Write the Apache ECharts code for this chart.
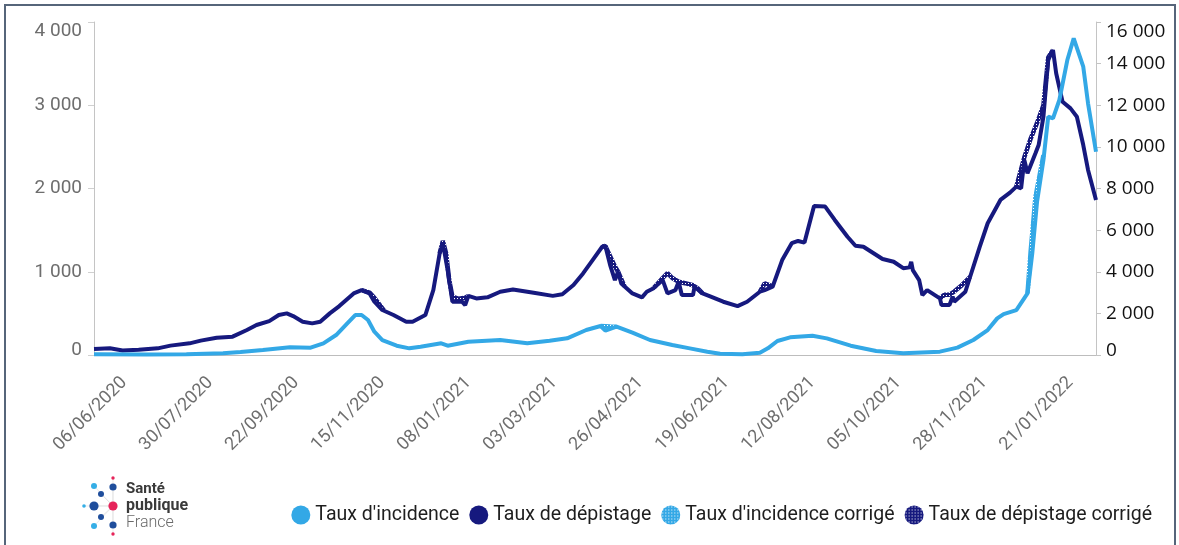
<!DOCTYPE html>
<html>
<head>
<meta charset="utf-8">
<script src="https://cdn.jsdelivr.net/npm/echarts@6/dist/echarts.min.js"></script>
<style>
  html, body { margin: 0; padding: 0; background: #fff; }
  #chart { width: 1179px; height: 545px; }
</style>
</head>
<body>
<div id="chart"></div>
<script>
// dates shown under the x axis (every 54 days)
var tickDates = ['2020-06-06', '2020-07-30', '2020-09-22', '2020-11-15', '2021-01-08', '2021-03-03',
  '2021-04-26', '2021-06-19', '2021-08-12', '2021-10-05', '2021-11-28', '2022-01-21'];
var firstDay = '2020-05-18';
var lastDay = '2022-02-06';

var seriesNames = ["Taux d'incidence", 'Taux de dépistage', "Taux d'incidence corrigé", 'Taux de dépistage corrigé'];

// taux d'incidence (axe gauche)
var incidence = [
  ['2020-05-18', 8], ['2020-06-20', 6], ['2020-07-15', 10], ['2020-08-07', 20], ['2020-08-18', 35],
  ['2020-09-01', 60], ['2020-09-18', 92], ['2020-10-01', 88], ['2020-10-09', 140], ['2020-10-17', 240],
  ['2020-10-24', 380], ['2020-10-29', 480], ['2020-11-02', 480], ['2020-11-06', 420], ['2020-11-10', 280],
  ['2020-11-15', 180], ['2020-11-24', 112], ['2020-12-02', 80], ['2020-12-09', 100], ['2020-12-22', 140],
  ['2020-12-26', 112], ['2021-01-08', 160], ['2021-01-28', 180], ['2021-02-14', 140], ['2021-02-28', 172],
  ['2021-03-11', 200], ['2021-03-23', 300], ['2021-04-01', 348], ['2021-04-04', 292], ['2021-04-11', 340],
  ['2021-04-21', 268], ['2021-05-02', 180], ['2021-05-16', 120], ['2021-05-27', 80], ['2021-06-07', 40],
  ['2021-06-15', 15], ['2021-06-29', 8], ['2021-07-10', 28], ['2021-07-15', 80], ['2021-07-21', 168],
  ['2021-07-29', 212], ['2021-08-12', 232], ['2021-08-21', 200], ['2021-09-05', 112], ['2021-09-21', 48],
  ['2021-10-08', 20], ['2021-10-31', 40], ['2021-11-11', 88], ['2021-11-21', 180], ['2021-11-30', 300],
  ['2021-12-06', 440], ['2021-12-10', 492], ['2021-12-18', 540], ['2021-12-25', 741], ['2021-12-28', 1221],
  ['2021-12-31', 1841], ['2022-01-04', 2342], ['2022-01-07', 2862], ['2022-01-10', 2843], ['2022-01-14', 3063],
  ['2022-01-19', 3543], ['2022-01-23', 3804], ['2022-01-29', 3463], ['2022-02-01', 3023], ['2022-02-06', 2442]
];

// taux de dépistage (axe droit)
var depistage = [
  ['2020-05-18', 290], ['2020-05-28', 320], ['2020-06-05', 220], ['2020-06-15', 250], ['2020-06-27', 320],
  ['2020-07-05', 450], ['2020-07-17', 560], ['2020-07-24', 690], ['2020-08-03', 830], ['2020-08-13', 880],
  ['2020-08-22', 1200], ['2020-08-28', 1440], ['2020-09-05', 1630], ['2020-09-11', 1920], ['2020-09-16', 2000],
  ['2020-09-20', 1870], ['2020-09-26', 1600], ['2020-10-02', 1520], ['2020-10-07', 1600], ['2020-10-13', 2000],
  ['2020-10-19', 2350], ['2020-10-28', 2960], ['2020-11-02', 3120], ['2020-11-07', 2960], ['2020-11-10', 2560],
  ['2020-11-15', 2160], ['2020-11-22', 1920], ['2020-11-30', 1600], ['2020-12-04', 1600], ['2020-12-12', 1920],
  ['2020-12-17', 3120], ['2020-12-21', 4890], ['2020-12-23', 5370], ['2020-12-26', 4080], ['2020-12-29', 2560],
  ['2021-01-04', 2560], ['2021-01-06', 2400], ['2021-01-08', 2840], ['2021-01-13', 2720], ['2021-01-20', 2770],
  ['2021-01-28', 3040], ['2021-02-05', 3150], ['2021-02-18', 2990], ['2021-03-02', 2840], ['2021-03-08', 2920],
  ['2021-03-15', 3360], ['2021-03-21', 3920], ['2021-03-27', 4560], ['2021-04-02', 5200], ['2021-04-04', 5240],
  ['2021-04-07', 4320], ['2021-04-10', 3600], ['2021-04-12', 4000], ['2021-04-14', 3440], ['2021-04-21', 2960],
  ['2021-04-27', 2770], ['2021-04-30', 3040], ['2021-05-04', 3200], ['2021-05-10', 3600], ['2021-05-13', 2960],
  ['2021-05-18', 3120], ['2021-05-20', 3520], ['2021-05-22', 2880], ['2021-05-29', 2880], ['2021-05-30', 3280],
  ['2021-06-04', 2960], ['2021-06-08', 2840], ['2021-06-17', 2560], ['2021-06-26', 2350], ['2021-07-02', 2560],
  ['2021-07-10', 3040], ['2021-07-13', 3120], ['2021-07-18', 3280], ['2021-07-24', 4560], ['2021-07-30', 5370],
  ['2021-08-03', 5480], ['2021-08-07', 5400], ['2021-08-13', 7160], ['2021-08-20', 7130], ['2021-08-26', 6490],
  ['2021-09-03', 5680], ['2021-09-08', 5250], ['2021-09-13', 5200], ['2021-09-25', 4610], ['2021-10-02', 4480],
  ['2021-10-08', 4170], ['2021-10-12', 4210], ['2021-10-13', 4480], ['2021-10-14', 4080], ['2021-10-18', 3600],
  ['2021-10-20', 2880], ['2021-10-23', 3120], ['2021-10-31', 2720], ['2021-11-01', 2400], ['2021-11-06', 2400],
  ['2021-11-08', 2800], ['2021-11-09', 2560], ['2021-11-16', 3040], ['2021-11-19', 3760], ['2021-11-25', 5200],
  ['2021-11-30', 6330], ['2021-12-08', 7450], ['2021-12-14', 7800], ['2021-12-18', 8090], ['2021-12-21', 8010],
  ['2021-12-23', 9370], ['2021-12-25', 8730], ['2021-12-30', 9690], ['2022-01-01', 10090], ['2022-01-04', 11450],
  ['2022-01-07', 14180], ['2022-01-10', 14650], ['2022-01-12', 13540], ['2022-01-16', 12170], ['2022-01-21', 11850],
  ['2022-01-25', 11450], ['2022-01-29', 10090], ['2022-02-01', 8890], ['2022-02-06', 7450]
];

// corrected values, only where they differ (null = gap)
var incidenceCorr = [
  ['2021-04-01', 348], ['2021-04-04', 346], ['2021-04-07', 342], ['2021-04-11', 340], ['2021-04-12', null],
  ['2021-12-25', 741], ['2021-12-27', 1250], ['2021-12-30', 1900], ['2022-01-04', 2400]
];
var depistageCorr = [
  ['2020-11-02', 3120], ['2020-11-07', 3000], ['2020-11-10', 2750], ['2020-11-13', 2450], ['2020-11-16', 2150], ['2020-11-17', null],
  ['2020-12-21', 4890], ['2020-12-23', 5480], ['2020-12-25', 4900], ['2020-12-27', 3600], ['2020-12-29', 2800],
  ['2021-01-02', 2700], ['2021-01-06', 2750], ['2021-01-08', 2840], ['2021-01-09', null],
  ['2021-04-02', 5200], ['2021-04-04', 5240], ['2021-04-07', 4750], ['2021-04-10', 4250], ['2021-04-12', 4000],
  ['2021-04-16', 3300], ['2021-04-17', null],
  ['2021-05-04', 3200], ['2021-05-10', 3700], ['2021-05-13', 3930], ['2021-05-16', 3700], ['2021-05-20', 3520],
  ['2021-05-24', 3450], ['2021-05-29', 3350], ['2021-06-01', 3200], ['2021-06-04', 2960], ['2021-06-05', null],
  ['2021-07-10', 3040], ['2021-07-13', 3440], ['2021-07-18', 3300], ['2021-07-19', null],
  ['2021-10-31', 2720], ['2021-11-03', 2900], ['2021-11-06', 2900], ['2021-11-09', 3050], ['2021-11-13', 3300],
  ['2021-11-19', 3760], ['2021-11-20', null],
  ['2021-12-18', 8090], ['2021-12-23', 9500], ['2021-12-27', 10400], ['2021-12-31', 11150], ['2022-01-04', 12000],
  ['2022-01-07', 14300], ['2022-01-10', 14650]
];

var lightBlue = '#33a8e6';
var navy = '#16197e';

function ts(s) {
  var p = s.split('-');
  return new Date(+p[0], +p[1] - 1, +p[2]).getTime();
}
function points(list) {
  return list.map(function (d) { return [ts(d[0]), d[1] === null ? '-' : d[1]]; });
}

// small dotted pattern used for the "corrigé" series
function dither(color) {
  var c = document.createElement('canvas');
  c.width = 3; c.height = 3;
  var ctx = c.getContext('2d');
  ctx.fillStyle = color;
  ctx.fillRect(0, 0, 3, 3);
  ctx.fillStyle = '#ffffff';
  ctx.fillRect(1, 1, 1, 1);
  return { image: c, repeat: 'repeat' };
}

function two(n) { return n < 10 ? '0' + n : '' + n; }
function frDate(v) {
  var d = new Date(v);
  return two(d.getDate()) + '/' + two(d.getMonth() + 1) + '/' + d.getFullYear();
}
function spaced(v) {
  var s = String(v).replace(/\B(?=(\d{3})+(?!\d))/g, ' ');
  return v === 0 ? '{low|' + s + '}' : s;
}

var chart = echarts.init(document.getElementById('chart'));

var logoBlue = '#1f4e9c', logoLight = '#35aee6', logoRed = '#e6245a';
var dots = [
  [113, 478, 1.7, logoRed], [94, 486, 3, logoLight], [113, 487, 3.6, logoBlue], [101, 494, 3, logoBlue],
  [84, 506, 1.8, logoLight], [94, 506, 4.6, logoBlue], [113, 506, 4.6, logoRed], [101, 517, 3, logoBlue],
  [94, 526, 3, logoLight], [113, 525, 3.6, logoBlue], [113, 534, 1.7, logoRed]
];
var logo = [];
dots.forEach(function (d) {
  logo.push({ type: 'line', silent: true, shape: { x1: 113, y1: 506, x2: d[0], y2: d[1] },
    style: { stroke: '#dcdcdc', lineWidth: 0.6 } });
});
dots.forEach(function (d) {
  logo.push({ type: 'circle', silent: true, shape: { cx: d[0], cy: d[1], r: d[2] }, style: { fill: d[3] } });
});
logo.push({ type: 'text', left: 126, top: 482, style: { text: 'Santé', font: 'bold 15px Roboto', fill: '#3a3a3a' } });
logo.push({ type: 'text', left: 126, top: 498, style: { text: 'publique', font: 'bold 16px Roboto', fill: '#3a3a3a' } });
logo.push({ type: 'text', left: 126, top: 515, style: { text: 'France', font: '300 16px Roboto', fill: '#6a6a6a' } });
logo.push({ type: 'rect', silent: true, shape: { x: 5, y: 5, width: 1170, height: 580 },
  style: { fill: 'none', stroke: '#56657a', lineWidth: 2 } });

chart.setOption({
  animation: false,
  backgroundColor: '#ffffff',
  grid: { left: 94, right: 83, top: 22, bottom: 190 },
  legend: {
    data: seriesNames,
    right: 22,
    top: 500,
    icon: 'circle',
    itemWidth: 19,
    itemHeight: 19,
    itemGap: 10,
    textStyle: { fontFamily: 'Roboto', fontSize: 19.5, color: '#1e1e1e' }
  },
  graphic: logo,
  xAxis: {
    type: 'value',
    min: ts(firstDay),
    max: ts(lastDay),
    axisLine: { lineStyle: { color: '#bdbdbd' } },
    axisTick: { show: false },
    splitLine: { show: false },
    axisLabel: {
      customValues: tickDates.map(ts),
      rotate: 45,
      margin: 25,
      formatter: frDate,
      fontFamily: 'Roboto',
      fontSize: 18,
      color: '#6e6e6e'
    }
  },
  yAxis: [{
    type: 'value',
    min: 0,
    max: 4000,
    interval: 1000,
    axisLine: { show: true, lineStyle: { color: '#c4c4c4' } },
    axisTick: { show: true, length: 6, lineStyle: { color: '#d0d0d0' } },
    splitLine: { show: false },
    axisLabel: {
      margin: 12,
      formatter: spaced,
      fontFamily: 'Roboto',
      fontSize: 19,
      color: '#6e6e6e',
      verticalAlignMinLabel: 'bottom',
      verticalAlignMaxLabel: 'top',
      rich: { low: { fontFamily: 'Roboto', fontSize: 19, color: '#6e6e6e', lineHeight: 9 } }
    }
  }, {
    type: 'value',
    position: 'right',
    min: 0,
    max: 16000,
    interval: 2000,
    axisLine: { show: true, lineStyle: { color: '#c4c4c4' } },
    axisTick: { show: true, length: 5, lineStyle: { color: '#c4c4c4' } },
    splitLine: { show: false },
    axisLabel: {
      margin: 10,
      formatter: spaced,
      fontFamily: 'Open Sans',
      fontSize: 19,
      color: '#111111',
      verticalAlignMinLabel: 'bottom',
      verticalAlignMaxLabel: 'top',
      rich: { low: { fontFamily: 'Open Sans', fontSize: 19, color: '#111111', lineHeight: 9 } }
    }
  }],
  series: [{
    name: seriesNames[3],
    type: 'line',
    yAxisIndex: 1,
    z: 1,
    symbol: 'none',
    connectNulls: false,
    data: points(depistageCorr),
    itemStyle: { color: dither(navy) },
    lineStyle: { width: 4.5, color: dither(navy) }
  }, {
    name: seriesNames[2],
    type: 'line',
    yAxisIndex: 0,
    z: 1,
    symbol: 'none',
    connectNulls: false,
    data: points(incidenceCorr),
    itemStyle: { color: dither(lightBlue) },
    lineStyle: { width: 4.5, color: dither(lightBlue) }
  }, {
    name: seriesNames[1],
    type: 'line',
    yAxisIndex: 1,
    z: 2,
    symbol: 'none',
    data: points(depistage),
    itemStyle: { color: navy },
    lineStyle: { width: 4, color: navy }
  }, {
    name: seriesNames[0],
    type: 'line',
    yAxisIndex: 0,
    z: 3,
    symbol: 'none',
    data: points(incidence),
    itemStyle: { color: lightBlue },
    lineStyle: { width: 4, color: lightBlue }
  }]
});
</script>
</body>
</html>
